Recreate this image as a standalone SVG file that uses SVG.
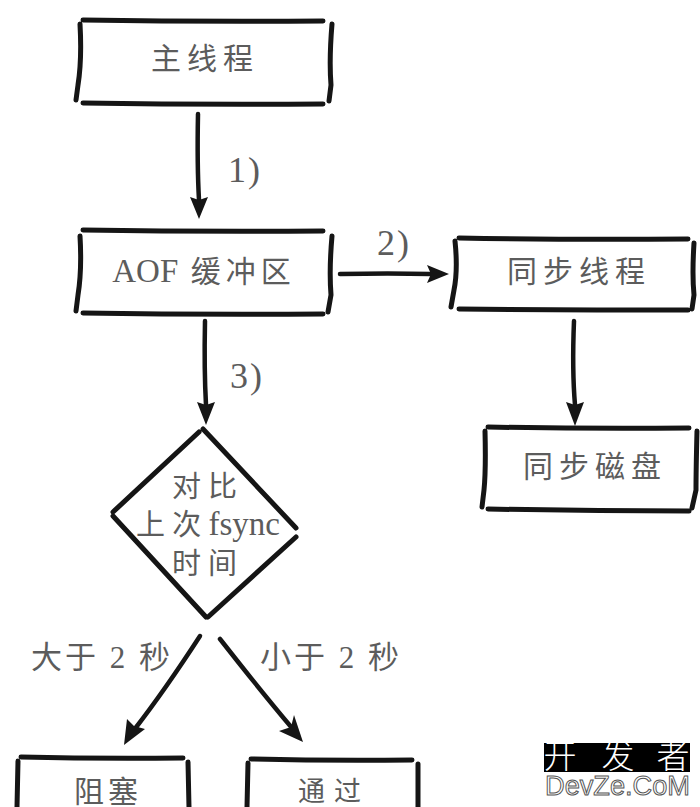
<svg xmlns="http://www.w3.org/2000/svg" width="700" height="807" viewBox="0 0 700 807">
<style>
.s{fill:none;stroke:#151515;stroke-width:5;stroke-linecap:round}
.c{fill:none;stroke:#151515;stroke-width:4.5;stroke-linecap:round}
.h{fill:#151515;stroke:none}
text{fill:#5c5c5c;font-family:"Liberation Serif","Noto Sans CJK SC",serif;text-anchor:middle}
.t{font-size:30px;letter-spacing:6px}
.l{font-size:36px;letter-spacing:2px}
.d{font-size:29px}
.w{fill:#fff;font-size:33px;font-family:"Noto Sans CJK SC",sans-serif;font-weight:300}
</style>
<rect width="700" height="807" fill="#fff"/>
<g id="connectors">
<path class="c" d="M198 114Q197 165 199 200"/><path class="h" d="M190 197L199 200L208 197L199 219Z"/>
<path class="c" d="M340 274Q390 273 430 274"/><path class="h" d="M427 265L431 274L427 283L449 274Z"/>
<path class="c" d="M205 321Q204 370 206 405"/><path class="h" d="M197 402L206 405L215 402L206 425Z"/>
<path class="c" d="M574 321Q572 370 575 405"/><path class="h" d="M566 402L575 405L584 402L575 426Z"/>
<path class="c" d="M200 636Q165 690 134 730"/><path class="h" d="M127 719L134 726L145 729L124 745Z"/>
<path class="c" d="M220 639Q260 690 292 728"/><path class="h" d="M303 742L279 731L291 727L294 715Z"/>
</g>
<g id="node-main"><path class="s" d="M83 20Q200 22 323 21M83 103Q200 105 323 104M80 24Q82 60 78 85L76 100M332 24Q329 60 331 85L329 101"/><text class="t" x="205" y="69">主线程</text></g>
<g id="node-aof"><path class="s" d="M83 230Q200 232 323 231M83 313Q200 315 323 314M80 236Q82 270 78 295L76 311M332 236Q329 270 331 295L328 312"/><text x="204" y="282" style="font-size:30px;letter-spacing:5px"><tspan font-size="33" letter-spacing="0">AOF</tspan> 缓冲区</text></g>
<g id="node-sync-thread"><path class="s" d="M459 238Q570 240 688 239M459 309Q570 310 688 310M455 241Q458 270 454 290L451 307M694 243Q692 275 694 295L692 309"/><text class="t" x="579" y="282">同步线程</text></g>
<g id="node-sync-disk"><path class="s" d="M488 427Q590 429 689 428M488 509Q590 511 689 511M485 431Q486 470 484 490L482 507M697 431Q696 470 696 490L692 508"/><text class="t" x="595" y="477">同步磁盘</text></g>
<g id="node-compare"><path class="s" d="M199 432L113 512M203 429L296 528M296 537L208 617M113 516L206 617"/>
<text class="d" x="208" y="497" style="letter-spacing:7px">对比</text><text class="d" x="208" y="535">上 次 <tspan font-size="33">fsync</tspan></text><text class="d" x="208" y="574" style="letter-spacing:7px">时间</text></g>
<g id="node-block"><path class="s" d="M21 757Q100 759 183 758M18 761L17 807M188 762L189 807"/><text class="t" x="108" y="802" style="letter-spacing:4px">阻塞</text></g>
<g id="node-pass"><path class="s" d="M251 759Q330 761 412 760M248 763L247 807M418 764L418 807"/><text class="t" x="334" y="801" style="font-size:27px;letter-spacing:9px">通过</text></g>
<g id="labels"><text class="l" x="245" y="182">1)</text><text class="l" x="394" y="255">2)</text><text class="l" x="247" y="388">3)</text>
<text class="l" x="102" y="668" style="font-size:31px;letter-spacing:3px">大于 2 秒</text><text class="l" x="331" y="668" style="font-size:31px;letter-spacing:3px">小于 2 秒</text></g>
<g id="watermark"><rect x="544" y="743" width="146" height="29" fill="#000"/><text class="w" x="560" y="768">开</text><text class="w" x="618" y="768">发</text><text class="w" x="673" y="768">者</text><text x="545" y="795" textLength="145" lengthAdjust="spacingAndGlyphs" style="fill:#fff;stroke:#555;stroke-width:1;font-size:28px;text-anchor:start;font-family:'Liberation Sans',sans-serif">DevZe.CoM</text></g>
</svg>
